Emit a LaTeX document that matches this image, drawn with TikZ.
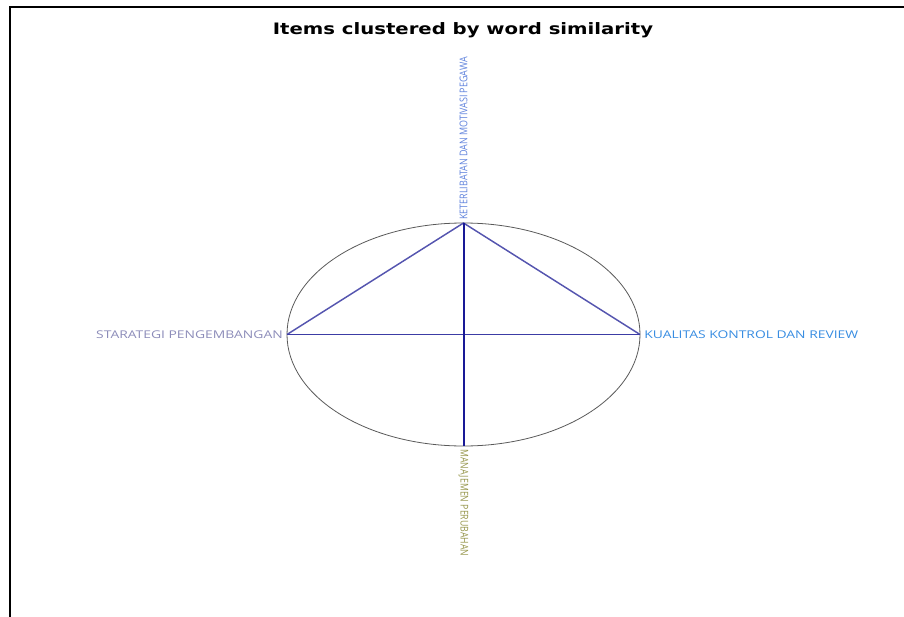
\documentclass[tikz,border=0pt]{standalone}
\usepackage{fontspec}
\setmainfont{Open Sans}
\newfontfamily\titlefont{DejaVu Sans}
\definecolor{lblstrat}{RGB}{140,140,185}
\definecolor{lblqual}{RGB}{55,140,225}
\definecolor{lblmot}{RGB}{95,130,220}
\definecolor{lblman}{RGB}{150,150,75}
\definecolor{linktri}{RGB}{85,85,175}
\definecolor{linkmid}{RGB}{60,60,165}
\definecolor{linkvert}{RGB}{25,25,150}
\begin{document}
\begin{tikzpicture}[x=0.75pt,y=-0.75pt]
	\tikzset{
		item/.style={inner sep=0, font=\fontsize{8}{9}\selectfont},
		link/.style={line width=1.1pt, draw=linktri},
	}
	\useasboundingbox (0,0) rectangle (904,617);
	% frame
	\draw[line width=1.5pt] (10,617) -- (10,7) -- (904,7);
	\node[font=\titlefont\bfseries\fontsize{11.8}{13}\selectfont] (title) at (463,30) {\scalebox{1.25}[1]{Items clustered by word similarity}};
	% circle of items
	\coordinate (c) at (463.5,334.5);
	\draw[color=black!65, line width=0.6pt] (c) ellipse [x radius=176.5, y radius=111.5];
	\coordinate (mot) at (463.5,223);
	\coordinate (strat) at (287,334.5);
	\coordinate (qual) at (640,334.5);
	\coordinate (man) at (463.5,446);
	\draw[link] (strat) -- (mot) -- (qual);
	\draw[link, line width=1.2pt, draw=linkmid] (strat) -- (qual);
	\draw[link, line width=1.5pt, draw=linkvert] (mot) -- (man);
	% labels
	\node[item, anchor=east, text=lblstrat] (stratlbl) at (283,334.5) {\scalebox{1.3}[1]{STARATEGI PENGEMBANGAN}};
	\node[item, anchor=west, text=lblqual] (quallbl) at (644,334.5) {\scalebox{1.3}[1]{KUALITAS KONTROL DAN REVIEW}};
	\node[item, anchor=west, rotate=90, text=lblmot] (motlbl) at (463.5,220) {\scalebox{0.84}[1]{KETERLIBATAN DAN MOTIVASI PEGAWA}};
	\node[item, anchor=west, rotate=-90, text=lblman] (manlbl) at (463.5,449) {\scalebox{0.82}[1]{MANAJEMEN PERUBAHAN}};
\end{tikzpicture}
\end{document}
